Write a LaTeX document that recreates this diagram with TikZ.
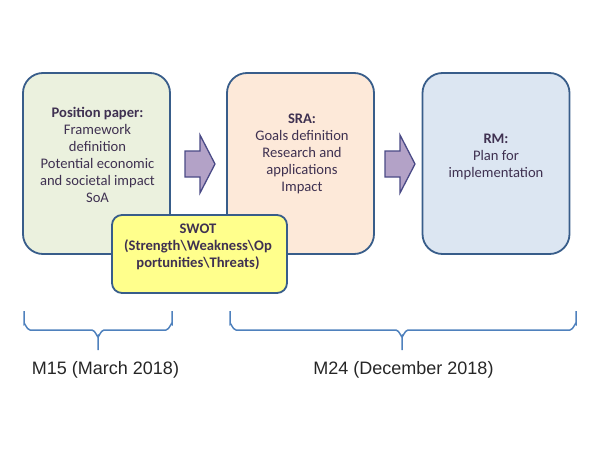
\documentclass[tikz,border=0pt]{standalone}
\usepackage{fontspec}
\setmainfont{Carlito}
\newfontfamily\arialf{Liberation Sans}
\definecolor{bordc}{HTML}{385D8A}
\definecolor{txtc}{HTML}{3F3151}
\definecolor{gfill}{HTML}{EBF1DE}
\definecolor{ofill}{HTML}{FDE9D9}
\definecolor{bfill}{HTML}{DCE6F2}
\definecolor{yfill}{HTML}{FFFF8C}
\definecolor{afill}{HTML}{B3A2C7}
\definecolor{aline}{HTML}{4A4A86}
\definecolor{brc}{HTML}{4F81BD}
\tikzset{
  box/.style={draw=bordc, line width=1.8pt, rounded corners=20pt, minimum width=147pt, minimum height=181pt, inner sep=0pt},
  txt/.style={align=center, text=txtc, font=\fontsize{14.6}{17}\selectfont, inner sep=0pt},
  blockarrow/.style={fill=afill, draw=aline, line width=1.3pt, line join=miter},
  bracec/.style={draw=brc, line width=1.5pt},
  datelbl/.style={font=\arialf\fontsize{18}{21}\selectfont, text=black!85, inner sep=0pt}
}
\begin{document}
\begin{tikzpicture}[x=1pt,y=-1pt]
\useasboundingbox (0,0) rectangle (600,450);
% boxes
\node[box, fill=gfill] (b1) at (96.5,163.5) {};
\node[box, fill=ofill] (b2) at (300.5,163.5) {};
\node[box, fill=bfill] (b3) at (496,163.5) {};
\node[txt] (t1) at (97.5,155) {\textbf{Position paper:}\\Framework\\definition\\Potential economic\\and societal impact\\SoA};
\node[txt] (t2) at (302,154) {\textbf{SRA:}\\Goals definition\\Research and\\applications\\Impact};
\node[txt] (t3) at (496,156.5) {\textbf{RM:}\\Plan for\\implementation};
% block arrows
\draw[blockarrow] (185,151) -- (200,151) -- (200,135) -- (215,164) -- (200,193) -- (200,177) -- (185,177) -- cycle;
\draw[blockarrow] (385,151) -- (400,151) -- (400,135) -- (415,164) -- (400,193) -- (400,177) -- (385,177) -- cycle;
% SWOT
\node[draw=bordc, line width=1.8pt, fill=yfill, rounded corners=10pt, minimum width=175pt, minimum height=78pt, inner sep=0pt] (sw) at (199.5,254) {};
\node[txt, font=\bfseries\fontsize{14.6}{17}\selectfont] (swt) at (198,246.5) {SWOT\\(Strength\textbackslash Weakness\textbackslash Op\\portunities\textbackslash Threats)};
% braces
\coordinate (l1) at (24,311);
\coordinate (l2) at (172,311);
\coordinate (lt) at (98,350);
\draw[bracec] (l1) -- (24,324) to[out=90,in=180] (30,330) -- (92,330) to[out=0,in=-90] (98,336) -- (lt);
\draw[bracec] (l2) -- (172,324) to[out=90,in=0] (166,330) -- (104,330) to[out=180,in=-90] (98,336);
\coordinate (r1) at (230,311);
\coordinate (r2) at (576,311);
\coordinate (rt) at (402,350);
\draw[bracec] (r1) -- (230,324) to[out=90,in=180] (236,330) -- (396,330) to[out=0,in=-90] (402,336) -- (rt);
\draw[bracec] (r2) -- (576,324) to[out=90,in=0] (570,330) -- (408,330) to[out=180,in=-90] (402,336);
% labels
\node[datelbl] (d1) at (105.5,370) {M15 (March 2018)};
\node[datelbl] (d2) at (403.5,370) {M24 (December 2018)};
\end{tikzpicture}
\end{document}
